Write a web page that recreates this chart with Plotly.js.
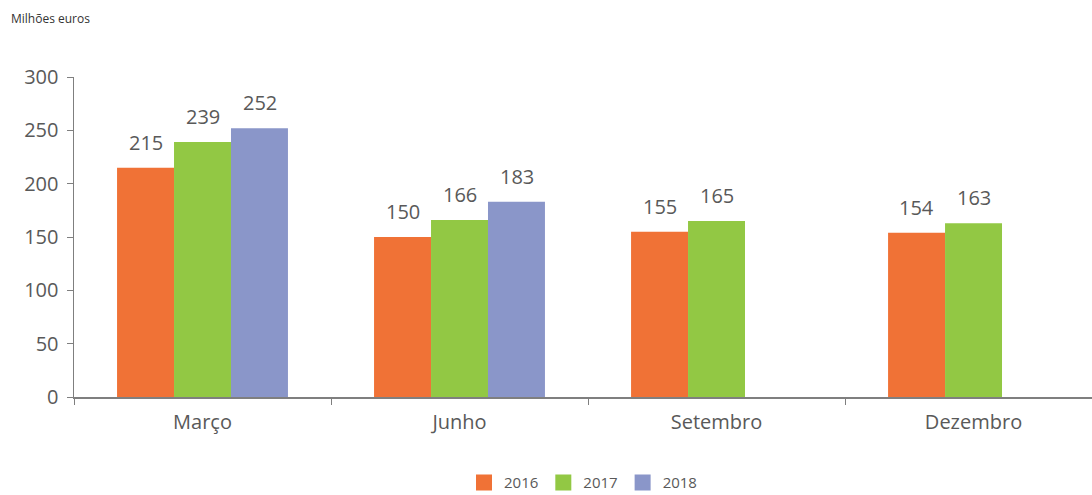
<!DOCTYPE html>
<html>
<head>
<meta charset="utf-8">
<script src="https://cdn.plot.ly/plotly-3.0.1.min.js"></script>
<style>html,body{margin:0;padding:0;background:#fff;}#chart{width:1092px;height:495px;}</style>
</head>
<body>
<div id="chart"></div>
<script>
const categories = ["Março", "Junho", "Setembro", "Dezembro"];
const years = ["2016", "2017", "2018"];
const values2016 = [215, 150, 155, 154];
const values2017 = [239, 166, 165, 163];
const values2018 = [252, 183, null, null];
const colors = ["#F07236", "#92C844", "#8A96C9"];

const FONT = "Open Sans, sans-serif";
const series = [values2016, values2017, values2018];

const traces = series.map((vals, i) => ({
  type: "bar",
  name: years[i],
  x: categories,
  y: vals,
  marker: { color: colors[i] },
  showlegend: false,
  hoverinfo: "skip"
}));

// legend entries with larger square swatches
years.forEach((yr, i) => {
  traces.push({
    type: "scatter", mode: "markers", name: yr,
    x: [null], y: [null],
    marker: { symbol: "square", size: 16, color: colors[i] },
    showlegend: true, hoverinfo: "skip"
  });
});

// value labels above bars, positioned through the axis scale
const barPx = 57;
const annotations = [];
series.forEach((vals, i) => {
  vals.forEach((v, j) => {
    if (v == null) return;
    annotations.push({
      x: categories[j], y: v, xref: "x", yref: "y",
      xshift: (i - 1) * barPx,
      yanchor: "bottom", yshift: 10,
      text: String(v), showarrow: false,
      font: { family: FONT, size: 20, color: "#595959" }
    });
  });
});
annotations.push({
  text: "Milhões euros",
  xref: "paper", yref: "paper",
  x: -0.064, y: 1.184,
  xanchor: "left", yanchor: "middle",
  showarrow: false,
  font: { family: FONT, size: 12, color: "#333" }
});

const layout = {
  width: 1092,
  height: 495,
  margin: { l: 74, r: 0, t: 77, b: 98, autoexpand: false },
  paper_bgcolor: "#fff",
  plot_bgcolor: "#fff",
  barmode: "group",
  bargap: 0.335,
  bargroupgap: 0,
  showlegend: true,
  legend: {
    orientation: "h",
    x: 0.5, xref: "paper", xanchor: "center",
    y: -0.268, yanchor: "middle",
    font: { family: FONT, size: 15, color: "#595959" },
    itemwidth: 20,
    tracegroupgap: 0
  },
  xaxis: {
    type: "category",
    range: [-0.5, 3.461],
    showline: true, linecolor: "#7f7f7f", linewidth: 1.5,
    ticks: "outside", tickson: "boundaries", ticklen: 6, tickcolor: "#7f7f7f",
    ticklabelstandoff: 6,
    tickfont: { family: FONT, size: 20, color: "#595959" },
    showgrid: false, zeroline: false, fixedrange: true, automargin: false
  },
  yaxis: {
    range: [0, 300],
    tickvals: [0, 50, 100, 150, 200, 250, 300],
    showline: true, linecolor: "#7f7f7f", linewidth: 1.5,
    ticks: "outside", ticklen: 6, tickcolor: "#7f7f7f",
    ticklabelstandoff: 4,
    tickfont: { family: FONT, size: 20, color: "#595959" },
    showgrid: false, zeroline: false, fixedrange: true, automargin: false
  },
  annotations: annotations
};

Plotly.newPlot("chart", traces, layout, { displayModeBar: false, staticPlot: true });
</script>
</body>
</html>
